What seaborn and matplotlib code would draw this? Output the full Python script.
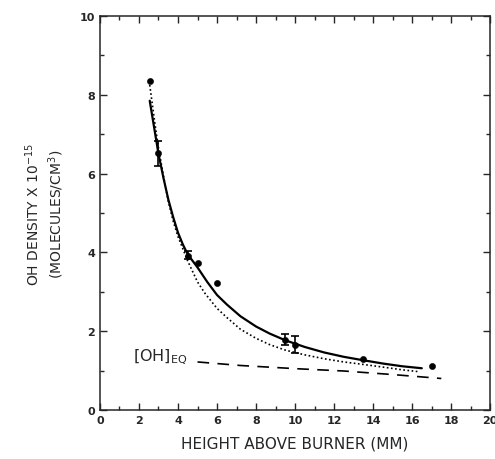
import numpy as np
import matplotlib
matplotlib.use("Agg")
import matplotlib.pyplot as plt
import seaborn as sns

# measured points
x_pts = [2.55, 3.0, 4.5, 5.0, 6.0, 9.5, 10.0, 13.5, 17.0]
y_pts = [8.35, 6.52, 3.92, 3.74, 3.22, 1.78, 1.65, 1.29, 1.12]

# points with error bars
x_err = [3.0, 4.5, 9.5, 10.0]
y_err = [6.52, 3.94, 1.80, 1.66]
err = [0.32, 0.10, 0.14, 0.21]

# solid curve (model)
x_solid = [2.55, 2.8, 3.0, 3.25, 3.5, 3.75, 4.0, 4.25, 4.5, 5.0, 5.5, 6.0, 6.5, 7.2,
           8.0, 8.7, 9.5, 10.5, 11.5, 12.5, 13.3, 14.5, 15.5, 16.5]
y_solid = [7.85, 7.1, 6.5, 5.9, 5.35, 4.9, 4.5, 4.2, 3.95, 3.62, 3.25, 2.92, 2.68, 2.38,
           2.12, 1.94, 1.77, 1.6, 1.46, 1.35, 1.28, 1.18, 1.11, 1.06]

# dotted curve
x_dot = [2.55, 2.7, 2.85, 3.0, 3.25, 3.5, 3.75, 4.0, 4.5, 5.0, 5.4, 6.0, 6.5, 7.2,
         8.0, 8.7, 9.5, 10.5, 11.5, 12.5, 13.3, 14.5, 15.5, 16.4]
y_dot = [8.25, 7.7, 7.15, 6.65, 5.95, 5.3, 4.8, 4.4, 3.78, 3.25, 2.95, 2.58, 2.35, 2.05,
         1.82, 1.66, 1.52, 1.4, 1.3, 1.22, 1.17, 1.09, 1.02, 0.97]

# equilibrium OH (dashed)
x_eq = [5.0, 7.2, 10.0, 12.5, 15.0, 17.5]
y_eq = [1.22, 1.13, 1.05, 0.99, 0.90, 0.80]

sns.set_style("ticks")
plt.rcParams['font.family'] = ['DejaVu Sans']

fig = plt.figure(figsize=(4.95, 4.6), dpi=100)
ax = fig.add_axes([0.202, 0.1065, 0.788, 0.8565])

sns.lineplot(x=x_solid, y=y_solid, color="black", linewidth=1.6, ax=ax, sort=False)
sns.lineplot(x=x_dot, y=y_dot, color="black", linewidth=1.2, linestyle=(0, (1, 1.5)), ax=ax, sort=False)
sns.lineplot(x=x_eq, y=y_eq, color="black", linewidth=1.2, linestyle=(0, (7, 5)), ax=ax, sort=False)
sns.scatterplot(x=x_pts, y=y_pts, color="black", s=20, edgecolor="black", ax=ax, zorder=5)
ax.errorbar(x_err, y_err, yerr=err, fmt="none", ecolor="black", elinewidth=1.2, capsize=3, capthick=1.2)

ax.text(1.7, 1.37, r"$\mathregular{[OH]_{EQ}}$", fontsize=11.5, va="center", ha="left")

ax.set_xlim(0, 20)
ax.set_ylim(0, 10)
ax.set_xticks(np.arange(0, 21, 2))
ax.set_yticks(np.arange(0, 11, 2))
ax.set_xticks(np.arange(0, 21, 1), minor=True)
ax.set_yticks(np.arange(0, 11, 1), minor=True)
ax.tick_params(which="both", direction="in", top=True, right=True, width=1.0)
ax.tick_params(which="major", length=5, labelsize=8)
ax.tick_params(which="minor", length=3)
for lab in ax.get_xticklabels() + ax.get_yticklabels():
    lab.set_fontweight("bold")
for s in ax.spines.values():
    s.set_linewidth(1.1)
    s.set_visible(True)

ax.set_xlabel("HEIGHT ABOVE BURNER (MM)", fontsize=11, labelpad=8)
ax.set_ylabel("OH DENSITY X 10$^{-15}$\n(MOLECULES/CM$^{3}$)", fontsize=10, labelpad=10, linespacing=1.3)

fig.savefig("out.png", dpi=100)
